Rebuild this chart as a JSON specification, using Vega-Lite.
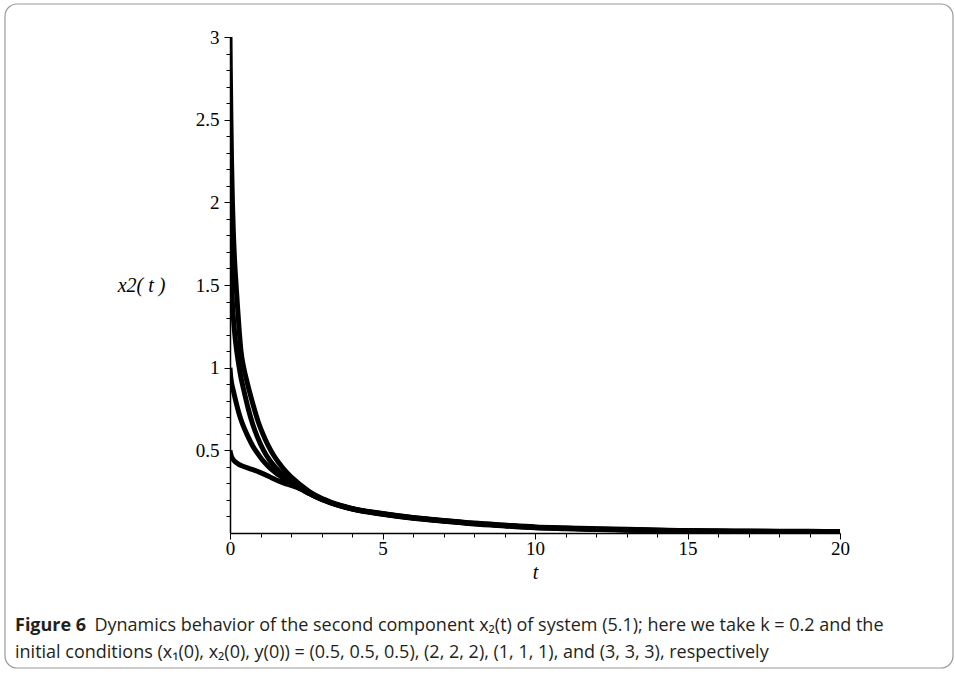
{
  "$schema": "https://vega.github.io/schema/vega-lite/v6.json",
  "autosize": {"type": "none"},
  "width": 610,
  "height": 496,
  "padding": {"left": 230, "top": 37, "right": 115, "bottom": 141},
  "background": "white",
  "title": {
    "text": "Figure 6",
    "subtitle": [
      "\u200b\u00a0\u00a0\u00a0\u00a0\u00a0\u00a0\u00a0\u00a0\u00a0\u00a0\u00a0\u00a0\u00a0\u00a0\u00a0\u00a0\u00a0Dynamics behavior of the second component x\u2082(t) of system (5.1); here we take k = 0.2 and the",
      "initial conditions (x\u2081(0), x\u2082(0), y(0)) = (0.5, 0.5, 0.5), (2, 2, 2), (1, 1, 1), and (3, 3, 3), respectively"
    ],
    "orient": "bottom",
    "anchor": "start",
    "frame": "group",
    "dx": -215,
    "offset": -52,
    "font": "Open Sans",
    "fontSize": 18,
    "fontWeight": "bold",
    "color": "#231f20",
    "subtitleFont": "Open Sans",
    "subtitleFontSize": 18,
    "subtitleColor": "#231f20",
    "subtitleLineHeight": 27,
    "subtitlePadding": -18
  },
  "config": {"view": {"stroke": null}},
  "resolve": {"axis": {"x": "independent", "y": "independent"}},
  "layer": [
    {
      "data": {"values": [
        {"s": "0.5", "t": 0, "v": 0.5}, {"s": "0.5", "t": 0.02, "v": 0.48}, {"s": "0.5", "t": 0.05, "v": 0.46}, {"s": "0.5", "t": 0.1, "v": 0.445}, {"s": "0.5", "t": 0.16, "v": 0.432}, {"s": "0.5", "t": 0.25, "v": 0.42}, {"s": "0.5", "t": 0.41, "v": 0.405}, {"s": "0.5", "t": 0.6, "v": 0.392}, {"s": "0.5", "t": 0.79, "v": 0.38}, {"s": "0.5", "t": 1.0, "v": 0.365}, {"s": "0.5", "t": 1.28, "v": 0.342}, {"s": "0.5", "t": 1.5, "v": 0.322}, {"s": "0.5", "t": 1.77, "v": 0.302}, {"s": "0.5", "t": 2.0, "v": 0.288}, {"s": "0.5", "t": 2.2, "v": 0.276}, {"s": "0.5", "t": 2.4, "v": 0.258}, {"s": "0.5", "t": 2.6, "v": 0.238}, {"s": "0.5", "t": 2.8, "v": 0.22}, {"s": "0.5", "t": 3.3, "v": 0.182}, {"s": "0.5", "t": 4, "v": 0.145}, {"s": "0.5", "t": 5, "v": 0.113}, {"s": "0.5", "t": 6, "v": 0.089}, {"s": "0.5", "t": 7, "v": 0.071}, {"s": "0.5", "t": 8, "v": 0.055}, {"s": "0.5", "t": 9, "v": 0.043}, {"s": "0.5", "t": 10, "v": 0.032}, {"s": "0.5", "t": 11, "v": 0.026}, {"s": "0.5", "t": 12, "v": 0.021}, {"s": "0.5", "t": 13, "v": 0.017}, {"s": "0.5", "t": 14, "v": 0.014}, {"s": "0.5", "t": 15, "v": 0.011}, {"s": "0.5", "t": 16, "v": 0.009}, {"s": "0.5", "t": 17, "v": 0.008}, {"s": "0.5", "t": 18, "v": 0.007}, {"s": "0.5", "t": 19, "v": 0.006}, {"s": "0.5", "t": 20, "v": 0.005},

        {"s": "1", "t": 0, "v": 1.0}, {"s": "1", "t": 0.02, "v": 0.95}, {"s": "1", "t": 0.05, "v": 0.91}, {"s": "1", "t": 0.11, "v": 0.86}, {"s": "1", "t": 0.2, "v": 0.79}, {"s": "1", "t": 0.3, "v": 0.72}, {"s": "1", "t": 0.4, "v": 0.665}, {"s": "1", "t": 0.5, "v": 0.62}, {"s": "1", "t": 0.61, "v": 0.575}, {"s": "1", "t": 0.75, "v": 0.525}, {"s": "1", "t": 0.91, "v": 0.48}, {"s": "1", "t": 1.07, "v": 0.44}, {"s": "1", "t": 1.3, "v": 0.395}, {"s": "1", "t": 1.6, "v": 0.35}, {"s": "1", "t": 1.9, "v": 0.31}, {"s": "1", "t": 2.2, "v": 0.28}, {"s": "1", "t": 2.4, "v": 0.259}, {"s": "1", "t": 2.6, "v": 0.239}, {"s": "1", "t": 2.8, "v": 0.221}, {"s": "1", "t": 3.3, "v": 0.183}, {"s": "1", "t": 4, "v": 0.146}, {"s": "1", "t": 5, "v": 0.115}, {"s": "1", "t": 6, "v": 0.091}, {"s": "1", "t": 7, "v": 0.073}, {"s": "1", "t": 8, "v": 0.057}, {"s": "1", "t": 9, "v": 0.045}, {"s": "1", "t": 10, "v": 0.034}, {"s": "1", "t": 11, "v": 0.028}, {"s": "1", "t": 12, "v": 0.023}, {"s": "1", "t": 13, "v": 0.019}, {"s": "1", "t": 14, "v": 0.015}, {"s": "1", "t": 15, "v": 0.012}, {"s": "1", "t": 16, "v": 0.01}, {"s": "1", "t": 17, "v": 0.009}, {"s": "1", "t": 18, "v": 0.008}, {"s": "1", "t": 19, "v": 0.007}, {"s": "1", "t": 20, "v": 0.006},

        {"s": "2", "t": 0, "v": 2.0}, {"s": "2", "t": 0.02, "v": 1.75}, {"s": "2", "t": 0.04, "v": 1.6}, {"s": "2", "t": 0.07, "v": 1.43}, {"s": "2", "t": 0.12, "v": 1.28}, {"s": "2", "t": 0.18, "v": 1.16}, {"s": "2", "t": 0.26, "v": 1.05}, {"s": "2", "t": 0.35, "v": 0.95}, {"s": "2", "t": 0.47, "v": 0.85}, {"s": "2", "t": 0.6, "v": 0.75}, {"s": "2", "t": 0.75, "v": 0.655}, {"s": "2", "t": 0.9, "v": 0.58}, {"s": "2", "t": 1.1, "v": 0.5}, {"s": "2", "t": 1.3, "v": 0.44}, {"s": "2", "t": 1.6, "v": 0.375}, {"s": "2", "t": 1.9, "v": 0.325}, {"s": "2", "t": 2.2, "v": 0.285}, {"s": "2", "t": 2.4, "v": 0.262}, {"s": "2", "t": 2.6, "v": 0.241}, {"s": "2", "t": 2.8, "v": 0.222}, {"s": "2", "t": 3.3, "v": 0.184}, {"s": "2", "t": 4, "v": 0.147}, {"s": "2", "t": 5, "v": 0.116}, {"s": "2", "t": 6, "v": 0.092}, {"s": "2", "t": 7, "v": 0.074}, {"s": "2", "t": 8, "v": 0.058}, {"s": "2", "t": 9, "v": 0.046}, {"s": "2", "t": 10, "v": 0.035}, {"s": "2", "t": 11, "v": 0.029}, {"s": "2", "t": 12, "v": 0.024}, {"s": "2", "t": 13, "v": 0.02}, {"s": "2", "t": 14, "v": 0.016}, {"s": "2", "t": 15, "v": 0.013}, {"s": "2", "t": 16, "v": 0.011}, {"s": "2", "t": 17, "v": 0.01}, {"s": "2", "t": 18, "v": 0.009}, {"s": "2", "t": 19, "v": 0.008}, {"s": "2", "t": 20, "v": 0.007},

        {"s": "3", "t": 0, "v": 3.0}, {"s": "3", "t": 0.01, "v": 2.8}, {"s": "3", "t": 0.03, "v": 2.5}, {"s": "3", "t": 0.05, "v": 2.25}, {"s": "3", "t": 0.08, "v": 2.0}, {"s": "3", "t": 0.11, "v": 1.82}, {"s": "3", "t": 0.15, "v": 1.65}, {"s": "3", "t": 0.2, "v": 1.5}, {"s": "3", "t": 0.25, "v": 1.36}, {"s": "3", "t": 0.3, "v": 1.23}, {"s": "3", "t": 0.36, "v": 1.1}, {"s": "3", "t": 0.45, "v": 1.0}, {"s": "3", "t": 0.55, "v": 0.92}, {"s": "3", "t": 0.64, "v": 0.855}, {"s": "3", "t": 0.75, "v": 0.78}, {"s": "3", "t": 0.93, "v": 0.67}, {"s": "3", "t": 1.1, "v": 0.59}, {"s": "3", "t": 1.25, "v": 0.53}, {"s": "3", "t": 1.43, "v": 0.47}, {"s": "3", "t": 1.6, "v": 0.425}, {"s": "3", "t": 1.8, "v": 0.378}, {"s": "3", "t": 2.0, "v": 0.34}, {"s": "3", "t": 2.2, "v": 0.308}, {"s": "3", "t": 2.4, "v": 0.278}, {"s": "3", "t": 2.6, "v": 0.25}, {"s": "3", "t": 2.8, "v": 0.228}, {"s": "3", "t": 3.3, "v": 0.187}, {"s": "3", "t": 4, "v": 0.149}, {"s": "3", "t": 5, "v": 0.118}, {"s": "3", "t": 6, "v": 0.094}, {"s": "3", "t": 7, "v": 0.076}, {"s": "3", "t": 8, "v": 0.06}, {"s": "3", "t": 9, "v": 0.048}, {"s": "3", "t": 10, "v": 0.037}, {"s": "3", "t": 11, "v": 0.031}, {"s": "3", "t": 12, "v": 0.026}, {"s": "3", "t": 13, "v": 0.022}, {"s": "3", "t": 14, "v": 0.018}, {"s": "3", "t": 15, "v": 0.015}, {"s": "3", "t": 16, "v": 0.013}, {"s": "3", "t": 17, "v": 0.012}, {"s": "3", "t": 18, "v": 0.011}, {"s": "3", "t": 19, "v": 0.01}, {"s": "3", "t": 20, "v": 0.009}
      ]},
      "mark": {"type": "line", "color": "black", "strokeWidth": 5, "interpolate": "monotone", "clip": true},
      "encoding": {
        "x": {
          "field": "t", "type": "quantitative",
          "scale": {"domain": [0, 20], "nice": false, "zero": false},
          "axis": {
            "values": [0, 1, 2, 3, 4, 5, 6, 7, 8, 9, 10, 11, 12, 13, 14, 15, 16, 17, 18, 19, 20],
            "format": "d",
            "labelExpr": "datum.value % 5 === 0 ? datum.label : ''",
            "labelOverlap": false,
            "labelFlush": false,
            "labelFont": "Liberation Serif",
            "labelFontSize": 19,
            "labelColor": "black",
            "labelPadding": 0,
            "tickSize": {"condition": {"test": "datum.value % 5 === 0", "value": 6}, "value": 4},
            "tickColor": "black",
            "tickWidth": 1,
            "domainColor": "black",
            "domainWidth": 1.5,
            "grid": false,
            "title": "t",
            "titleFont": "Liberation Serif",
            "titleFontStyle": "italic",
            "titleFontWeight": "normal",
            "titleFontSize": 20,
            "titleColor": "black",
            "titlePadding": 4
          }
        },
        "y": {
          "field": "v", "type": "quantitative",
          "scale": {"domain": [0, 3], "nice": false, "zero": false},
          "axis": {
            "values": [0.1, 0.2, 0.3, 0.4, 0.5, 0.6, 0.7, 0.8, 0.9, 1.0, 1.1, 1.2, 1.3, 1.4, 1.5, 1.6, 1.7, 1.8, 1.9, 2.0, 2.1, 2.2, 2.3, 2.4, 2.5, 2.6, 2.7, 2.8, 2.9, 3.0],
            "format": ".1~f",
            "labelExpr": "abs(datum.value * 2 - round(datum.value * 2)) < 0.001 ? datum.label : ''",
            "labelOverlap": false,
            "labelFlush": false,
            "labelFont": "Liberation Serif",
            "labelFontSize": 19,
            "labelColor": "black",
            "labelPadding": 5,
            "tickSize": {"condition": {"test": "abs(datum.value * 2 - round(datum.value * 2)) < 0.001", "value": 6}, "value": 4},
            "tickColor": "black",
            "tickWidth": 1,
            "domainColor": "black",
            "domainWidth": 1.5,
            "grid": false,
            "title": "x2( t )",
            "titleFont": "Liberation Serif",
            "titleFontStyle": "italic",
            "titleFontWeight": "normal",
            "titleFontSize": 20,
            "titleColor": "black",
            "titleAngle": 0,
            "titleAlign": "center",
            "titleBaseline": "middle",
            "titleX": -89,
            "titleY": 248
          }
        },
        "detail": {"field": "s", "type": "nominal"}
      }
    },
    {
      "data": {"values": [{}]},
      "mark": {"type": "rect", "fill": "white", "fillOpacity": 0, "stroke": "#9a9a9a", "strokeWidth": 1.2, "cornerRadius": 12, "clip": false},
      "encoding": {
        "x": {"datum": -7.377, "type": "quantitative", "axis": null},
        "x2": {"datum": 23.705},
        "y": {"datum": 3.1996, "type": "quantitative", "axis": null},
        "y2": {"datum": -0.8165}
      }
    }
  ]
}
